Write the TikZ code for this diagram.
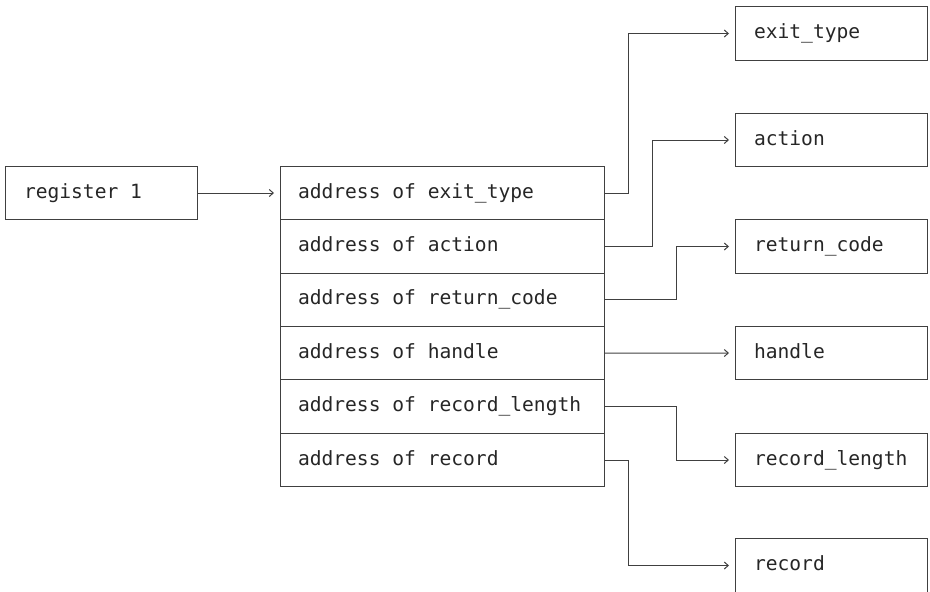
\documentclass[tikz,border=0pt]{standalone}
\usepackage{fontspec}
\setmonofont{DejaVu Sans Mono}
\usepackage{xcolor}
\usetikzlibrary{positioning,arrows.meta}

\newcommand{\boxfont}{\fontsize{19.6}{24}\selectfont\ttfamily}

\begin{document}
\begin{tikzpicture}[x=1pt, y=-1pt,
        box/.style={draw=black!75, line width=1pt, outer sep=0pt, inner xsep=0pt,
            minimum height=53.4pt, text height=14pt, text depth=4pt,
            align=flush left, text=black!85, font=\boxfont},
        regbox/.style={box, minimum width=192pt, text width=154pt},
        rowbox/.style={box, minimum width=324pt, text width=288pt},
        valbox/.style={box, minimum width=192pt, text width=154pt},
        link/.style={draw=black!75, line width=1pt, -{Straight Barb[length=4pt,width=7pt]}, shorten >=6pt}]
        \useasboundingbox (0,0) rectangle (930,592);

        % Register Box
        \node[regbox] (reg) at (101,193) {register 1};

        % Parameter List
        \node[rowbox] (r1) at (442,193) {address of exit\_type};
        \node[rowbox, below=0pt of r1] (r2) {address of action};
        \node[rowbox, below=0pt of r2] (r3) {address of return\_code};
        \node[rowbox, below=0pt of r3] (r4) {address of handle};
        \node[rowbox, below=0pt of r4] (r5) {address of record\_length};
        \node[rowbox, below=0pt of r5] (r6) {address of record};

        % Value Boxes
        \node[valbox] (ext) at (831,33.5) {exit\_type};
        \node[valbox] (act) at (831,140) {action};
        \node[valbox] (ret) at (831,246.5) {return\_code};
        \node[valbox] (hnd) at (831,353) {handle};
        \node[valbox] (len) at (831,460) {record\_length};
        \node[valbox] (rec) at (831,565.5) {record};

        % Arrows
        \draw[link] (reg.east) -- (r1.west);
        \draw[link] (r1.east) -- ++(24,0) |- (ext.west);
        \draw[link] (r2.east) -- ++(48,0) |- (act.west);
        \draw[link] (r3.east) -- ++(72,0) |- (ret.west);
        \draw[link] (r4.east) -- (hnd.west);
        \draw[link] (r5.east) -- ++(72,0) |- (len.west);
        \draw[link] (r6.east) -- ++(24,0) |- (rec.west);
    \end{tikzpicture}
\end{document}
